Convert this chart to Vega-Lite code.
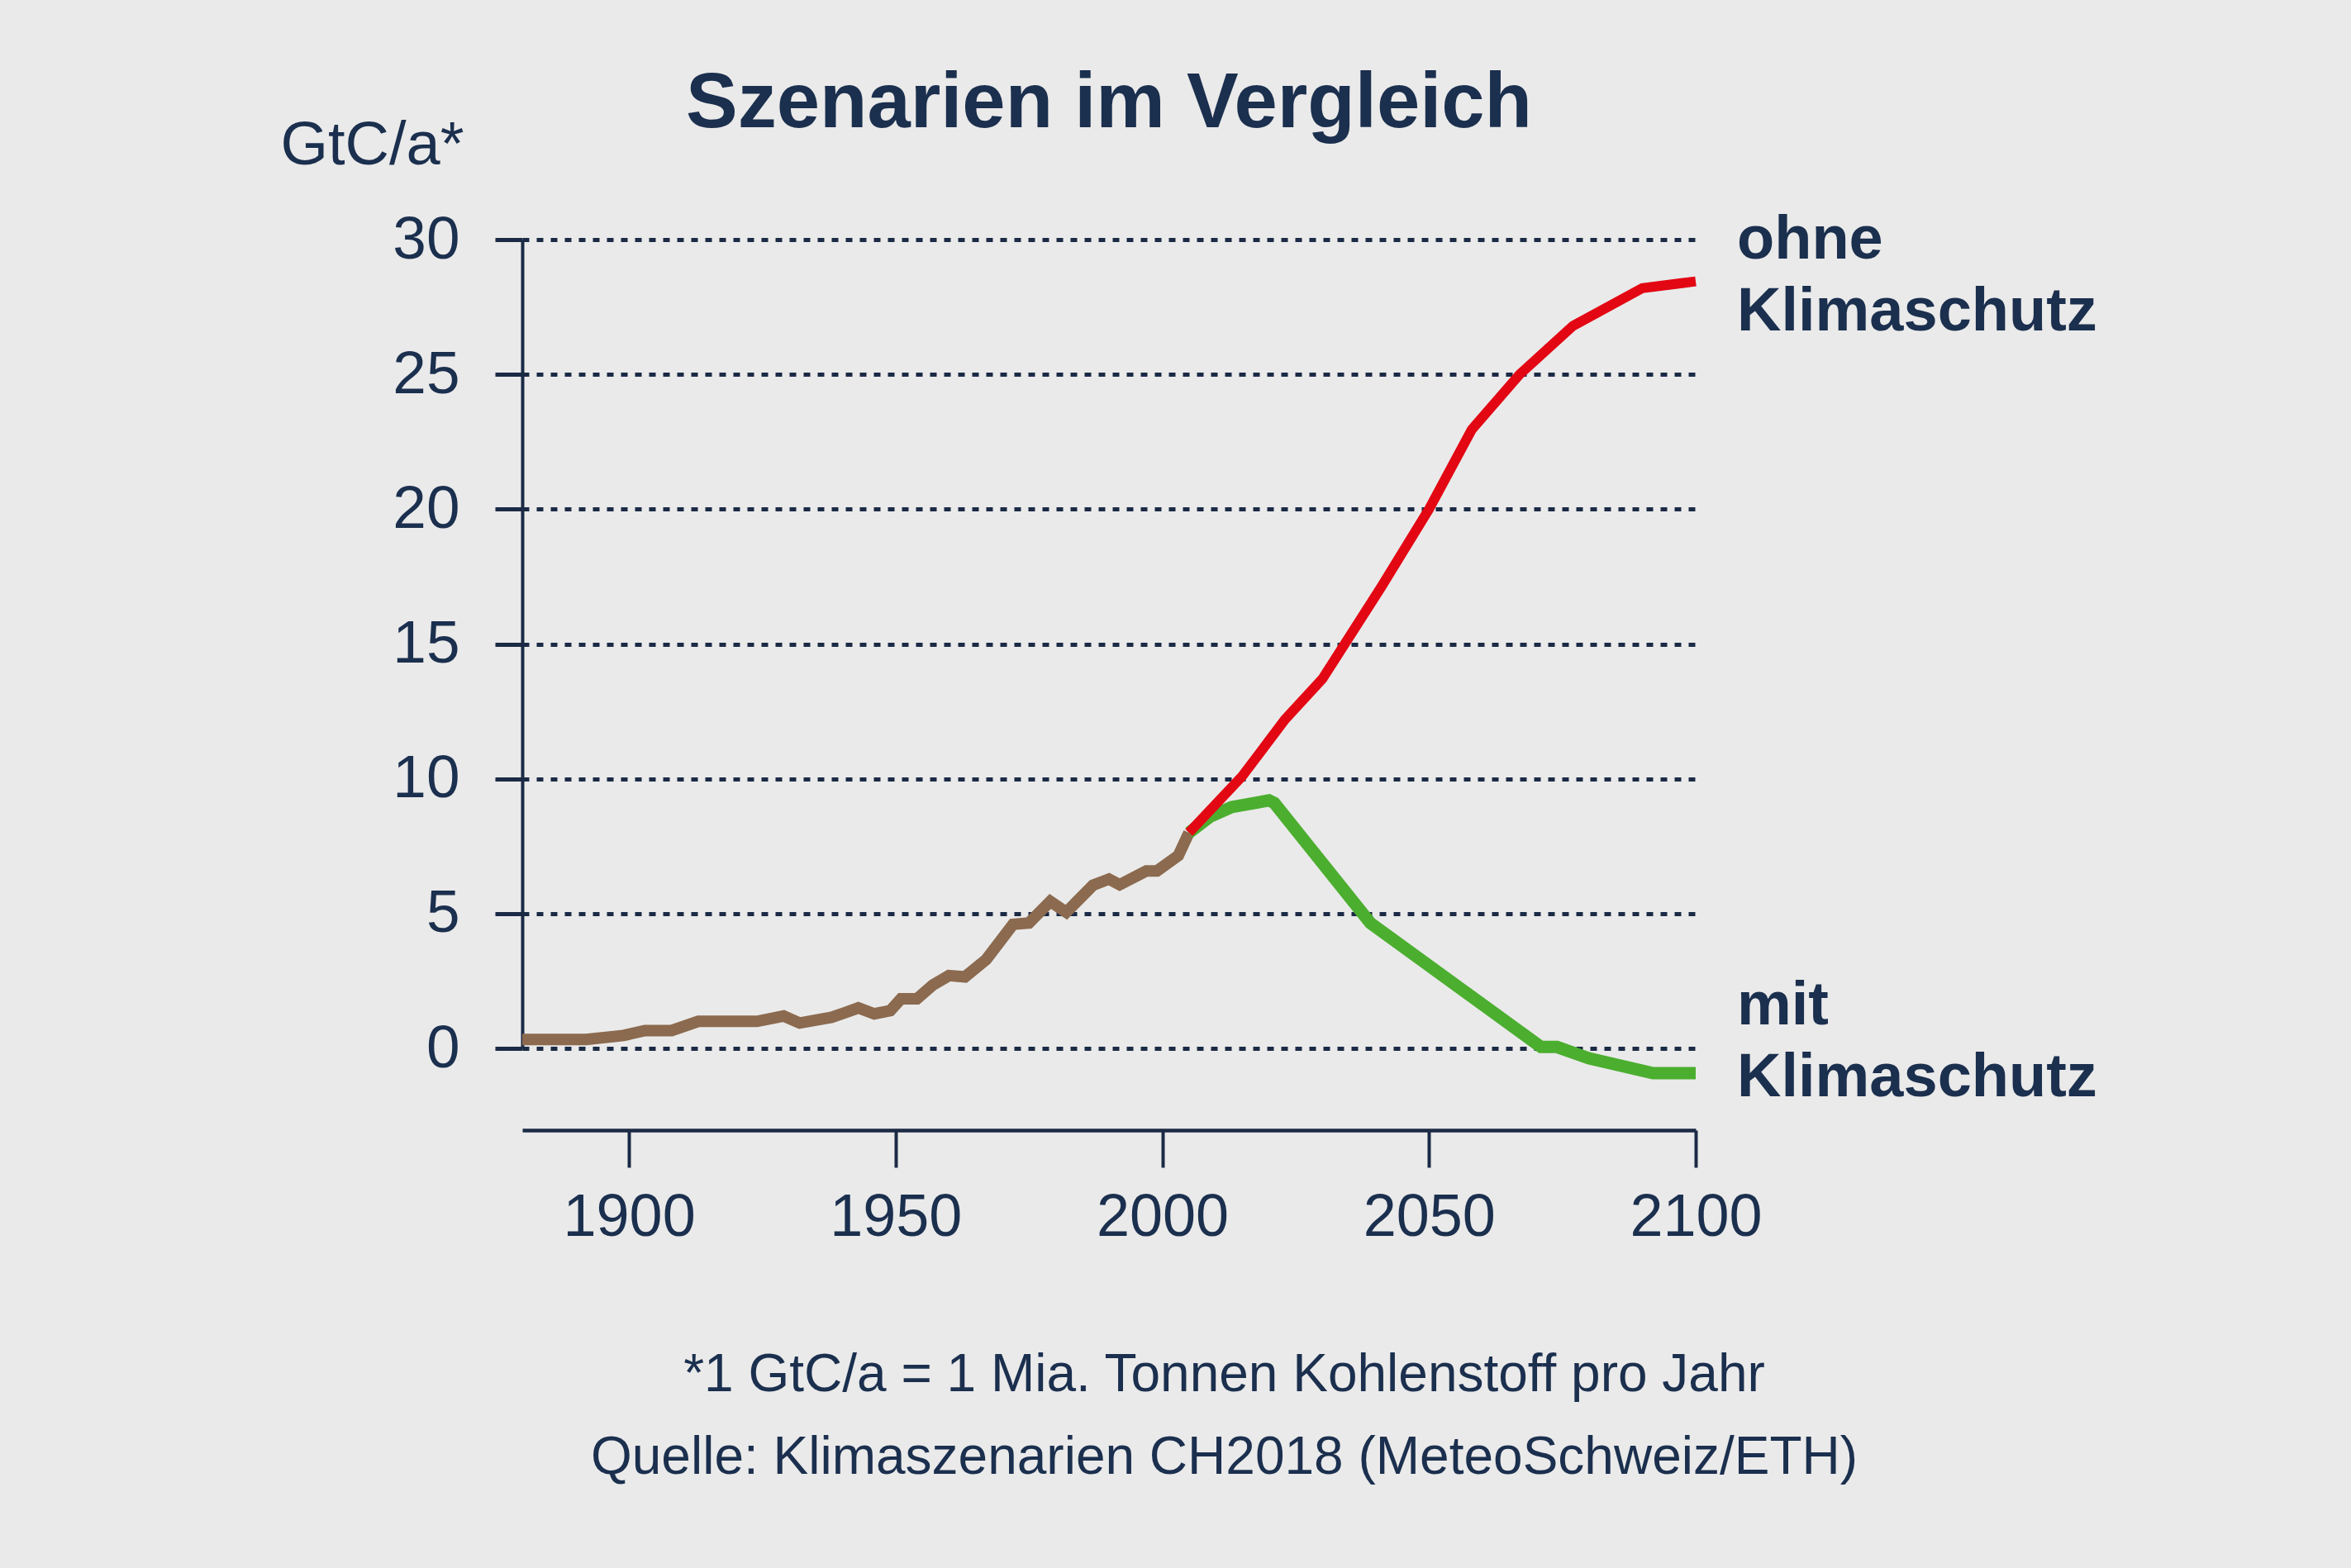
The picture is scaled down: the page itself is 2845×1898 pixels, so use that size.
{
  "$schema": "https://vega.github.io/schema/vega-lite/v6.json",
  "width": 1420,
  "height": 979,
  "autosize": {"type": "none"},
  "padding": {"left": 632, "top": 290, "right": 793, "bottom": 629},
  "background": "#eaeaea",
  "title": {
    "text": "Szenarien im Vergleich",
    "frame": "group",
    "anchor": "middle",
    "baseline": "alphabetic",
    "font": "Liberation Sans",
    "fontSize": 94,
    "fontWeight": "bold",
    "color": "#1b2f4e",
    "offset": -109
  },
  "config": {
    "view": {"stroke": null},
    "font": "Liberation Sans"
  },
  "datasets": {
    "emissions": [
      {"series": "historisch", "year": 1880, "value": 0.33},
      {"series": "historisch", "year": 1892, "value": 0.33},
      {"series": "historisch", "year": 1899, "value": 0.48},
      {"series": "historisch", "year": 1903, "value": 0.66},
      {"series": "historisch", "year": 1908, "value": 0.66},
      {"series": "historisch", "year": 1913, "value": 1.0},
      {"series": "historisch", "year": 1924, "value": 1.0},
      {"series": "historisch", "year": 1929, "value": 1.2},
      {"series": "historisch", "year": 1932, "value": 0.94},
      {"series": "historisch", "year": 1938, "value": 1.15},
      {"series": "historisch", "year": 1943, "value": 1.5},
      {"series": "historisch", "year": 1946, "value": 1.28},
      {"series": "historisch", "year": 1949, "value": 1.4},
      {"series": "historisch", "year": 1951, "value": 1.84},
      {"series": "historisch", "year": 1954, "value": 1.84},
      {"series": "historisch", "year": 1957, "value": 2.35},
      {"series": "historisch", "year": 1960, "value": 2.7},
      {"series": "historisch", "year": 1963, "value": 2.65},
      {"series": "historisch", "year": 1967, "value": 3.3},
      {"series": "historisch", "year": 1972, "value": 4.6},
      {"series": "historisch", "year": 1975, "value": 4.65},
      {"series": "historisch", "year": 1979, "value": 5.45},
      {"series": "historisch", "year": 1982, "value": 5.05},
      {"series": "historisch", "year": 1987, "value": 6.05},
      {"series": "historisch", "year": 1990, "value": 6.28},
      {"series": "historisch", "year": 1992, "value": 6.07},
      {"series": "historisch", "year": 1997, "value": 6.58},
      {"series": "historisch", "year": 1999, "value": 6.58},
      {"series": "historisch", "year": 2003, "value": 7.15},
      {"series": "historisch", "year": 2005, "value": 8.0},
      {"series": "mit Klimaschutz", "year": 2005, "value": 8.0},
      {"series": "mit Klimaschutz", "year": 2009, "value": 8.6},
      {"series": "mit Klimaschutz", "year": 2013, "value": 8.95},
      {"series": "mit Klimaschutz", "year": 2020, "value": 9.2},
      {"series": "mit Klimaschutz", "year": 2021, "value": 9.1},
      {"series": "mit Klimaschutz", "year": 2039, "value": 4.65},
      {"series": "mit Klimaschutz", "year": 2071, "value": 0.05},
      {"series": "mit Klimaschutz", "year": 2074, "value": 0.05},
      {"series": "mit Klimaschutz", "year": 2080, "value": -0.37},
      {"series": "mit Klimaschutz", "year": 2092, "value": -0.92},
      {"series": "mit Klimaschutz", "year": 2100, "value": -0.92},
      {"series": "ohne Klimaschutz", "year": 2005, "value": 8.0},
      {"series": "ohne Klimaschutz", "year": 2010, "value": 9.05},
      {"series": "ohne Klimaschutz", "year": 2015, "value": 10.1},
      {"series": "ohne Klimaschutz", "year": 2023, "value": 12.2},
      {"series": "ohne Klimaschutz", "year": 2030, "value": 13.7},
      {"series": "ohne Klimaschutz", "year": 2041, "value": 17.1},
      {"series": "ohne Klimaschutz", "year": 2050, "value": 20.0},
      {"series": "ohne Klimaschutz", "year": 2058, "value": 22.95},
      {"series": "ohne Klimaschutz", "year": 2067, "value": 25.0},
      {"series": "ohne Klimaschutz", "year": 2077, "value": 26.8},
      {"series": "ohne Klimaschutz", "year": 2090, "value": 28.2},
      {"series": "ohne Klimaschutz", "year": 2100, "value": 28.45}
    ],
    "labels": [
      {"label": "ohne\nKlimaschutz", "year": 2100, "value": 29.31},
      {"label": "mit\nKlimaschutz", "year": 2100, "value": 0.9}
    ]
  },
  "layer": [
    {
      "data": {"name": "emissions"},
      "transform": [{"filter": "datum.series === 'historisch'"}],
      "mark": {"type": "line", "color": "#8b6a4f", "strokeWidth": 14},
      "encoding": {
        "x": {
          "field": "year",
          "type": "quantitative",
          "scale": {"domain": [1880, 2100], "nice": false, "zero": false},
          "axis": {
            "values": [1900, 1950, 2000, 2050, 2100],
            "format": "d",
            "offset": 99,
            "grid": false,
            "domainColor": "#1b2a45",
            "domainWidth": 4.5,
            "tickColor": "#1b2a45",
            "tickWidth": 4,
            "tickSize": 45,
            "labelFont": "Liberation Sans",
            "labelFontSize": 72,
            "labelColor": "#1b2f4e",
            "labelPadding": 25,
            "labelFlush": false,
            "title": ["*1 GtC/a = 1 Mia. Tonnen Kohlenstoff pro Jahr", "Quelle: Klimaszenarien CH2018 (MeteoSchweiz/ETH)"],
            "titleFont": "Liberation Sans",
            "titleFontSize": 64,
            "titleFontWeight": "normal",
            "titleColor": "#1b2f4e",
            "titleAlign": "center",
            "titleBaseline": "alphabetic",
            "titleLineHeight": 100,
            "titleX": 849,
            "titleY": 315
          }
        },
        "y": {
          "field": "value",
          "type": "quantitative",
          "scale": {"domain": [0, 30], "nice": false},
          "axis": {
            "values": [0, 5, 10, 15, 20, 25, 30],
            "format": "d",
            "grid": true,
            "gridColor": "#1b2a45",
            "gridWidth": 5,
            "gridDash": [8, 9],
            "gridOpacity": 1,
            "domainColor": "#1b2a45",
            "domainWidth": 4,
            "tickColor": "#1b2a45",
            "tickWidth": 5,
            "tickSize": 33,
            "labelFont": "Liberation Sans",
            "labelFontSize": 73,
            "labelColor": "#1b2f4e",
            "labelPadding": 43,
            "title": "GtC/a*",
            "titleFont": "Liberation Sans",
            "titleFontSize": 74,
            "titleFontWeight": "normal",
            "titleColor": "#1b2f4e",
            "titleAngle": 0,
            "titleAlign": "right",
            "titleBaseline": "alphabetic",
            "titleX": -71,
            "titleY": -92
          }
        }
      }
    },
    {
      "data": {"name": "emissions"},
      "transform": [{"filter": "datum.series === 'mit Klimaschutz'"}],
      "mark": {"type": "line", "color": "#4bae2f", "strokeWidth": 15},
      "encoding": {
        "x": {"field": "year", "type": "quantitative"},
        "y": {"field": "value", "type": "quantitative"}
      }
    },
    {
      "data": {"name": "emissions"},
      "transform": [{"filter": "datum.series === 'ohne Klimaschutz'"}],
      "mark": {"type": "line", "color": "#e30613", "strokeWidth": 12},
      "encoding": {
        "x": {"field": "year", "type": "quantitative"},
        "y": {"field": "value", "type": "quantitative"}
      }
    },
    {
      "data": {"name": "labels"},
      "mark": {
        "type": "text",
        "align": "left",
        "baseline": "alphabetic",
        "dx": 50,
        "lineBreak": "\n",
        "lineHeight": 87,
        "font": "Liberation Sans",
        "fontSize": 74,
        "fontWeight": "bold",
        "color": "#1b2f4e"
      },
      "encoding": {
        "x": {"field": "year", "type": "quantitative"},
        "y": {"field": "value", "type": "quantitative"},
        "text": {"field": "label"}
      }
    }
  ]
}
